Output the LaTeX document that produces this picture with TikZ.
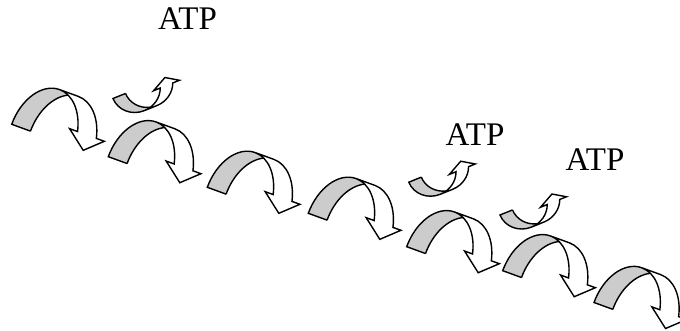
\documentclass[tikz,border=0pt]{standalone}
\usepackage{fontspec}
\setmainfont{Liberation Serif}
% curved arrow (Word "curved down arrow" geometry), local y-up, origin at outer base corner
\newcommand{\curvarrow}[5]{%
  \pgfmathsetmacro{\cvW}{#1}%
  \pgfmathsetmacro{\cvH}{#2}%
  \pgfmathsetmacro{\cvT}{#3}%
  \pgfmathsetmacro{\cvA}{#4}%
  \pgfmathsetmacro{\cvAH}{#5}%
  \pgfmathsetmacro{\cvR}{\cvW/2-(\cvT+\cvA)/4}%
  \pgfmathsetmacro{\cvXc}{\cvR+\cvT}%
  \pgfmathsetmacro{\cvPa}{asin(\cvAH/\cvH)}%
  \pgfmathsetmacro{\cvDx}{\cvR*cos(\cvPa)}%
  \pgfmathsetmacro{\cvXv}{\cvR+\cvDx}%
  \pgfmathsetmacro{\cvXvii}{\cvXc+\cvDx}%
  \pgfmathsetmacro{\cvDh}{(\cvA-\cvT)/2}%
  \pgfmathsetmacro{\cvXiv}{\cvXv-\cvDh}%
  \pgfmathsetmacro{\cvXviii}{\cvXvii+\cvDh}%
  \pgfmathsetmacro{\cvXvi}{\cvW-\cvA/2}%
  \pgfmathsetmacro{\cvPi}{acos(\cvT/(2*\cvR))}%
  \pgfmathsetmacro{\cvPii}{180-\cvPi}%
  \fill[white] (\cvXvi,0) -- (\cvXiv,\cvAH) -- (\cvXv,\cvAH)
     arc[start angle=\cvPa, end angle=90, x radius=\cvR pt, y radius=\cvH pt]
     -- (\cvXc,\cvH)
     arc[start angle=90, end angle=\cvPa, x radius=\cvR pt, y radius=\cvH pt]
     -- (\cvXviii,\cvAH) -- cycle;
  \fill[ribbon] (\cvT,0)
     arc[start angle=180, end angle=\cvPii, x radius=\cvR pt, y radius=\cvH pt]
     arc[start angle=\cvPi, end angle=180, x radius=\cvR pt, y radius=\cvH pt]
     -- cycle;
  \draw[outline] (\cvT,0)
     arc[start angle=180, end angle=\cvPii, x radius=\cvR pt, y radius=\cvH pt];
  \draw[outline] (\cvT,0) -- (0,0)
     arc[start angle=180, end angle=90, x radius=\cvR pt, y radius=\cvH pt]
     -- (\cvXc,\cvH)
     arc[start angle=90, end angle=\cvPa, x radius=\cvR pt, y radius=\cvH pt]
     -- (\cvXviii,\cvAH) -- (\cvXvi,0) -- (\cvXiv,\cvAH) -- (\cvXv,\cvAH)
     arc[start angle=\cvPa, end angle=90, x radius=\cvR pt, y radius=\cvH pt];
}
\newcommand{\bigcurv}{\curvarrow{94.6}{49}{20}{37}{15.7}}
\newcommand{\smallcurv}{\curvarrow{70}{23}{13.5}{28}{8}}
\begin{document}
\begin{tikzpicture}[x=1pt,y=-1pt,
  outline/.style={draw=black, line width=1.4pt, line join=miter},
  ribbon/.style={fill=gray!40},
  bigarrow/.style={rotate=-20, x=1pt, y=1pt},
  smallarrow/.style={rotate=22, x=1pt, y=1pt, yscale=-1},
  atp/.style={font=\fontsize{33}{35}\selectfont, inner sep=0pt, anchor=base}]
\useasboundingbox (0,0) rectangle (680,331);
\clip (0,0) rectangle (680,331);
% big arrows
\begin{scope}[shift={(11.7,124.3)}, bigarrow] \bigcurv \end{scope}
\begin{scope}[shift={(108.3,156.7)}, bigarrow] \bigcurv \end{scope}
\begin{scope}[shift={(207.3,187.3)}, bigarrow] \bigcurv \end{scope}
\begin{scope}[shift={(308.3,213.3)}, bigarrow] \bigcurv \end{scope}
\begin{scope}[shift={(406.7,246.7)}, bigarrow] \bigcurv \end{scope}
\begin{scope}[shift={(502.7,270.7)}, bigarrow] \bigcurv \end{scope}
\begin{scope}[shift={(594,302.5)}, bigarrow] \bigcurv \end{scope}
% small arrows
\begin{scope}[shift={(113,98.5)}, smallarrow] \smallcurv \end{scope}
\begin{scope}[shift={(408.8,182.2)}, smallarrow] \smallcurv \end{scope}
\begin{scope}[shift={(500,215)}, smallarrow] \smallcurv \end{scope}
% labels
\node[atp] (atp1) at (187.5,29.5) {ATP};
\node[atp] (atp2) at (475,145.5) {ATP};
\node[atp] (atp3) at (595,170.5) {ATP};
\end{tikzpicture}
\end{document}
